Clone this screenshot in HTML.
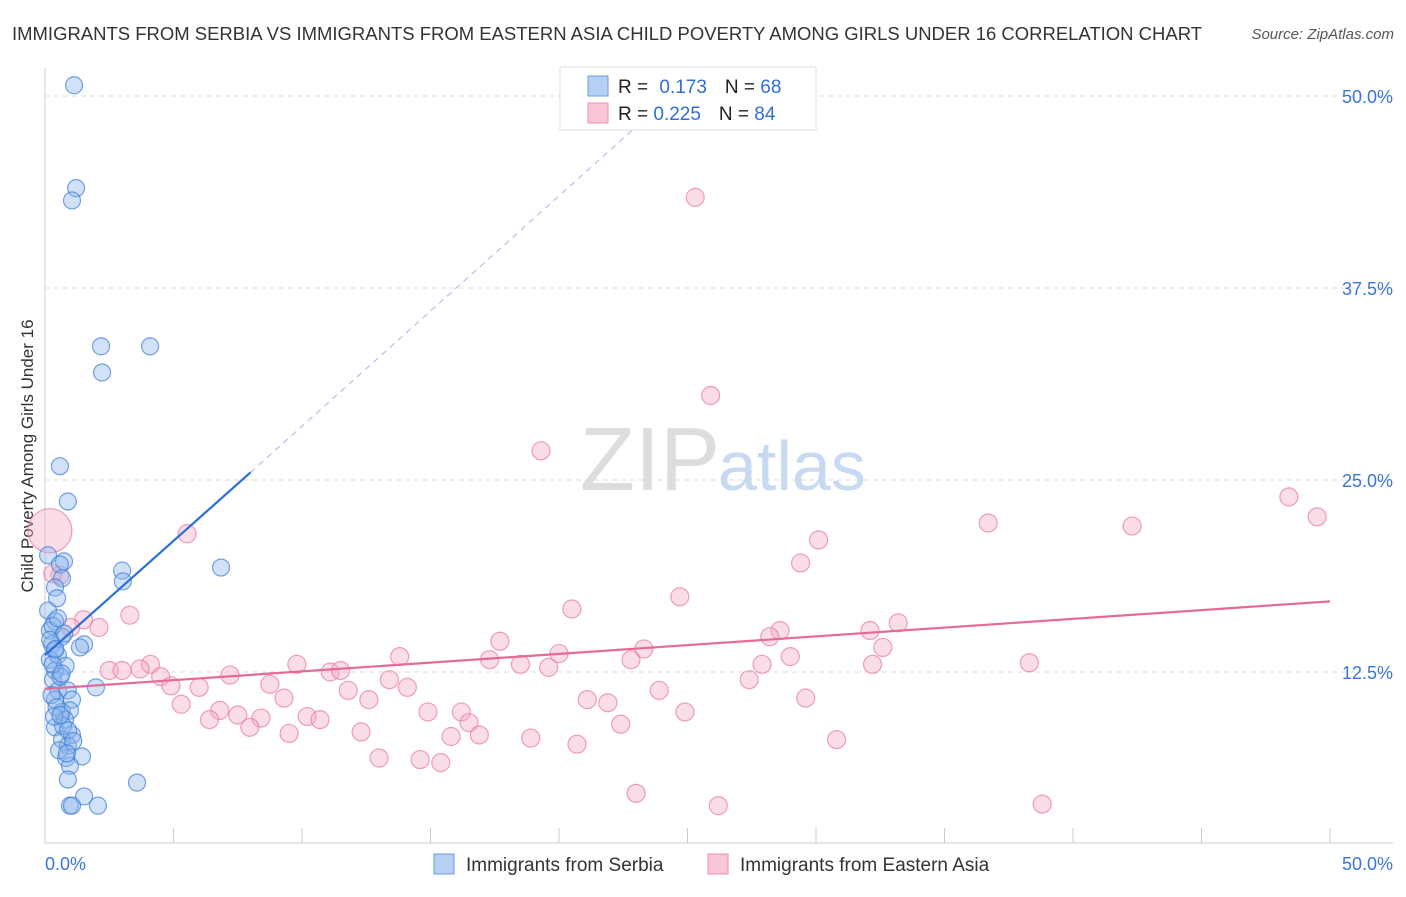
<!DOCTYPE html>
<html><head><meta charset="utf-8">
<style>
body{margin:0;background:#fff;font-family:"Liberation Sans",sans-serif;}
svg text{font-family:"Liberation Sans",sans-serif;}
</style></head>
<body>
<svg id="chart" width="1406" height="892" xmlns="http://www.w3.org/2000/svg">
<text x="12" y="40" font-size="18" fill="#333" textLength="1190" lengthAdjust="spacingAndGlyphs">IMMIGRANTS FROM SERBIA VS IMMIGRANTS FROM EASTERN ASIA CHILD POVERTY AMONG GIRLS UNDER 16 CORRELATION CHART</text>
<text x="1394" y="39" font-size="15" fill="#555" font-style="italic" text-anchor="end">Source: ZipAtlas.com</text>
<text transform="translate(33,456) rotate(-90)" font-size="17" fill="#333" text-anchor="middle">Child Poverty Among Girls Under 16</text>
<g id="grid"></g>
<text x="720" y="490" font-size="90" fill="#ddd" text-anchor="end" font-family="Liberation Serif">ZIP</text>
<text x="718" y="490" font-size="70" fill="#c8daf2">atlas</text>
<g id="marks"></g>
<g id="legend">
<rect x="560" y="67" width="256" height="63" fill="#fff" stroke="#ddd"/>
<rect x="588" y="76" width="20" height="20" fill="#b6d0f4" stroke="#6a9de0"/>
<rect x="588" y="103" width="20" height="20" fill="#f9c6d5" stroke="#ec90ae"/>
<text x="618" y="93" font-size="19" fill="#222">R = <tspan fill="#2f6fd6" dx="6">0.173</tspan><tspan fill="#222" dx="18">N = </tspan><tspan fill="#2f6fd6">68</tspan></text>
<text x="618" y="120" font-size="19" fill="#222">R = <tspan fill="#2f6fd6">0.225</tspan><tspan fill="#222" dx="18">N = </tspan><tspan fill="#2f6fd6">84</tspan></text>
</g>
<g>
<rect x="434" y="854" width="20" height="20" fill="#b6d0f4" stroke="#6a9de0"/>
<text x="466" y="871" font-size="19" fill="#333">Immigrants from Serbia</text>
<rect x="708" y="854" width="20" height="20" fill="#f9c6d5" stroke="#ec90ae"/>
<text x="740" y="871" font-size="19" fill="#333">Immigrants from Eastern Asia</text>
</g>
</svg>
<script>
const yTicks=[12.5,25,37.5,50];
const yTickLabels=["12.5%","25.0%","37.5%","50.0%"];
const serbiaX=[1.13,1.21,1.05,2.18,4.09,2.22,0.58,0.89,6.85,3.0,3.03,0.74,0.12,0.58,0.66,0.39,0.47,0.12,0.39,0.19,0.66,1.52,1.36,0.27,0.39,0.19,0.39,0.31,1.98,0.51,0.89,0.39,1.05,0.66,0.97,0.39,0.78,0.66,1.05,0.89,1.44,0.82,0.97,0.89,3.58,1.52,0.97,2.06,1.05,0.3,0.2,0.5,0.8,0.6,0.25,0.45,0.7,0.35,0.9,0.55,0.3,0.75,0.5,0.4,0.65,1.1,0.85,0.6];
const serbiaY=[50.7,44.0,43.2,33.7,33.7,32.0,25.9,23.6,19.3,19.1,18.4,19.7,20.1,19.5,18.6,18.0,17.3,16.5,15.8,15.2,14.8,14.3,14.1,14.3,13.9,13.3,12.6,12.0,11.5,11.3,11.3,10.7,10.7,9.9,10.0,8.9,9.4,8.1,8.4,7.7,7.0,6.9,6.4,5.5,5.3,4.4,3.8,3.8,3.8,15.5,14.6,13.6,12.9,12.2,11.0,10.2,9.0,9.6,8.7,7.4,13.0,15.0,16.0,14.0,12.4,8.0,7.2,9.7];
const asiaX=[0.19,5.53,25.3,25.9,19.3,48.4,49.5,36.7,42.3,30.1,29.4,0.58,24.7,20.5,3.3,1.5,2.1,1.0,33.2,32.1,28.6,28.2,17.7,32.6,23.3,20.0,13.8,29.0,17.3,22.8,9.8,27.9,32.2,38.3,4.1,18.5,19.6,11.1,11.5,2.5,3.0,3.7,4.5,7.2,27.4,13.4,4.9,6.0,8.75,11.8,14.1,23.9,9.3,12.6,21.1,29.6,21.9,5.3,6.8,14.9,16.2,24.9,7.5,6.4,8.4,10.2,10.7,16.5,22.4,7.97,9.5,12.3,15.8,16.9,18.9,20.7,30.8,13.0,14.6,15.4,23.0,26.2,38.8,0.3];
const asiaY=[21.7,21.5,43.4,30.5,26.9,23.9,22.6,22.2,22.0,21.1,19.6,18.8,17.4,16.6,16.2,15.9,15.4,15.4,15.7,15.2,15.2,14.8,14.5,14.1,14.0,13.7,13.5,13.5,13.3,13.3,13.0,13.0,13.0,13.1,13.0,13.0,12.8,12.5,12.6,12.6,12.6,12.7,12.2,12.3,12.0,12.0,11.6,11.5,11.7,11.3,11.5,11.3,10.8,10.7,10.7,10.8,10.5,10.4,10.0,9.9,9.9,9.9,9.7,9.4,9.5,9.6,9.4,9.2,9.1,8.9,8.5,8.6,8.3,8.4,8.2,7.8,8.1,6.9,6.8,6.6,4.6,3.8,3.9,18.9];
const serbiaTrend=[[0,13.6],[8,25.5],[24,49.5]];
const asiaTrend=[[0,11.4],[50,17.1]];
const X0=45,X1=1330,Y0=864,pxPer=192/12.5;
const sx=v=>X0+v/50*(X1-X0);
const sy=v=>Y0-v*pxPer;
const NS="http://www.w3.org/2000/svg";
function mk(tag,attrs,parent){const e=document.createElementNS(NS,tag);for(const k in attrs)e.setAttribute(k,attrs[k]);parent.appendChild(e);return e;}
const grid=document.getElementById('grid'),marks=document.getElementById('marks');
yTicks.forEach((t,i)=>{
 const l=mk('line',{x1:X0,x2:1393,y1:sy(t),y2:sy(t),stroke:'#ddd','stroke-dasharray':'5,4'},grid);
 
 
 const tx=mk('text',{x:1393,y:sy(t)+7,'font-size':18,fill:'#3a76d6','text-anchor':'end'},grid);
 tx.textContent=yTickLabels[i];
 
 
});
const ax=mk('line',{x1:X0,x2:X0,y1:68,y2:843,stroke:'#ccc'},grid);


const bx=mk('line',{x1:X0,x2:1393,y1:843,y2:843,stroke:'#ccc'},grid);


for(let i=0;i<=10;i++){
 const t=mk('line',{x1:sx(i*5),x2:sx(i*5),y1:828,y2:843,stroke:'#ccc'},grid);
 
 
}
const xl=mk('text',{x:45,y:870,'font-size':18,fill:'#3a76d6'},grid);xl.textContent='0.0%';


const xr=mk('text',{x:1393,y:870,'font-size':18,fill:'#3a76d6','text-anchor':'end'},grid);xr.textContent='50.0%';


asiaX.forEach((x,i)=>{
 const c=mk('circle',{cx:sx(x),cy:sy(asiaY[i]),r:i===0?22:9,fill:'rgba(246,170,195,0.4)',stroke:'rgba(232,120,158,0.7)','stroke-width':1.2},marks);
 
 
});
serbiaX.forEach((x,i)=>{
 const c=mk('circle',{cx:sx(x),cy:sy(serbiaY[i]),r:8.5,fill:'rgba(140,180,236,0.4)',stroke:'rgba(60,125,215,0.7)','stroke-width':1.2},marks);
 
 
});
const b1=mk('line',{x1:sx(serbiaTrend[0][0]),y1:sy(serbiaTrend[0][1]),x2:sx(serbiaTrend[1][0]),y2:sy(serbiaTrend[1][1]),stroke:'#2a6fd8','stroke-width':2.2},marks);


const b2=mk('line',{x1:sx(serbiaTrend[1][0]),y1:sy(serbiaTrend[1][1]),x2:sx(serbiaTrend[2][0]),y2:sy(serbiaTrend[2][1]),stroke:'#9bbbe8','stroke-width':1,'stroke-dasharray':'6,5'},marks);


const p1=mk('line',{x1:sx(asiaTrend[0][0]),y1:sy(asiaTrend[0][1]),x2:sx(asiaTrend[1][0]),y2:sy(asiaTrend[1][1]),stroke:'#e5699a','stroke-width':2.2},marks);


</script>
</body></html>
